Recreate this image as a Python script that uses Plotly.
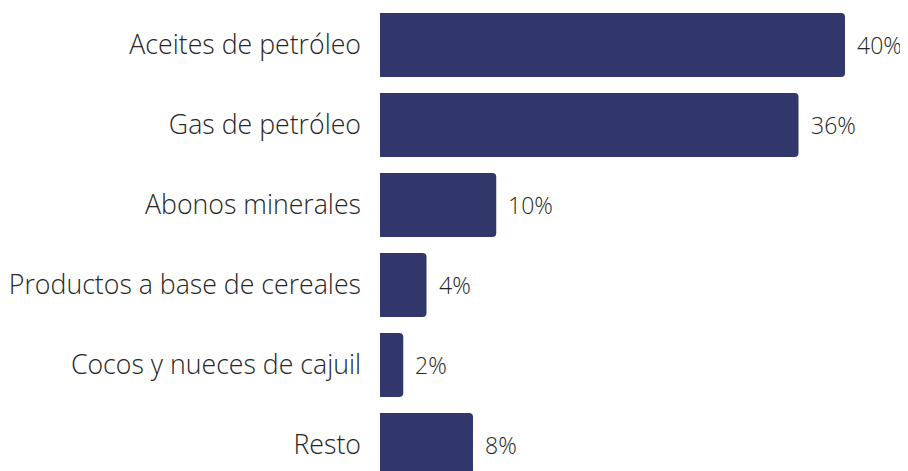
import plotly.graph_objects as go

categories = ["Aceites de petróleo", "Gas de petróleo", "Abonos minerales",
              "Productos a base de cereales", "Cocos y nueces de cajuil", "Resto"]
values = [40, 36, 10, 4, 2, 8]
labels = ["40%", "36%", "10%", "4%", "2%", "8%"]

fig = go.Figure(go.Bar(
    x=values, y=categories, orientation="h",
    marker=dict(color="#32376b", cornerradius=4, line=dict(width=0)),
    hoverinfo="skip",
))
for v, c, t in zip(values, categories, labels):
    fig.add_annotation(x=v, y=c, text=t, showarrow=False, xanchor="left",
                       xshift=10, yanchor="middle",
                       font=dict(family="Open Sans", size=23, color="#262626", weight=300))
fig.update_layout(
    width=900, height=463,
    margin=dict(l=372, r=0, t=0, b=0),
    paper_bgcolor="white", plot_bgcolor="white",
    bargap=0.2, showlegend=False,
    font=dict(family="Open Sans", color="#262626"),
)
fig.update_xaxes(range=[0, 528/11.625], visible=False, fixedrange=True)
fig.update_yaxes(range=[5.325, -0.4625], showgrid=False, zeroline=False, showline=False,
                 ticks="", ticklabelstandoff=18,
                 tickfont=dict(family="Open Sans", size=26.7, color="#262626", weight=300))
fig.write_html("out.html")
